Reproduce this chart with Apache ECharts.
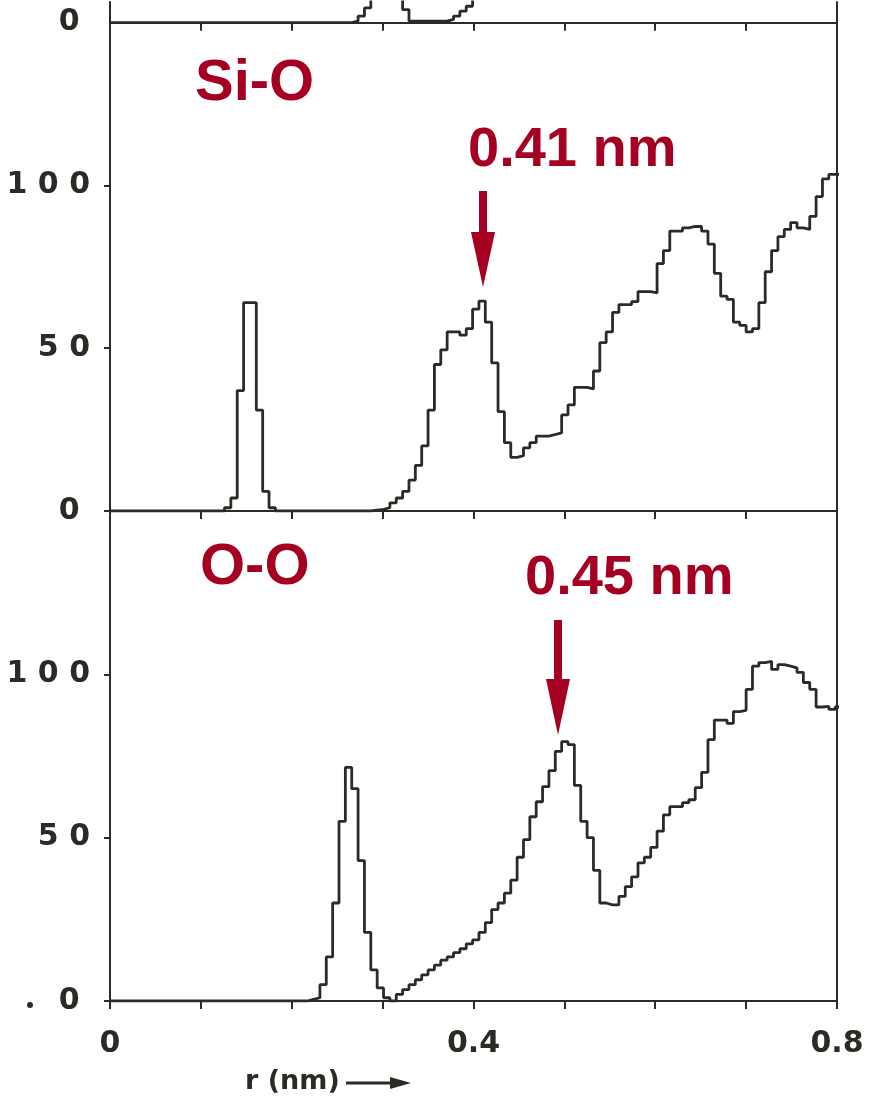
<!DOCTYPE html>
<html><head><meta charset="utf-8">
<script src="https://cdn.jsdelivr.net/npm/echarts@6/dist/echarts.min.js"></script>
<style>html,body{margin:0;padding:0;background:#fff}#c{width:869px;height:1096px}</style>
</head><body><div id="c"></div>
<script>
// histogram bin width along r (nm)
const binWidth = 0.007;
// Si-O pair distribution (counts per bin, starting at r = 0)
const siO = [0,0,0,0,0,0,0,0,0,0,0,0,0,0,0,0,0,0,
 1,4,37,64,64,31,6,1,
 0,0,0,0,0,0,0,0,0,0,0,0,0,0,0,
 0.3,0.5,1,2.5,4,6,9.5,14,20,31,
 45,49.5,55,55,54,56,62,64.5,58,45.5,
 30.5,21,16.5,17,19.4,21,23,23,23.5,24,
 29.5,32.6,38,38,37.5,43,51.7,55,61,63.4,
 63.4,64.3,67.4,67.4,67,76,80,86,86,87,
 87.4,87.4,86,82,73,66,65,58,57,55,
 56,64,73.5,80,84.3,86.5,88.6,87,86.5,90.5,
 96.6,102,103.4,103.4];
// O-O pair distribution
const oO = [0,0,0,0,0,0,0,0,0,0,0,0,0,0,0,0,0,0,0,0,0,0,0,0,0,0,0,0,0,0,0,
 0.5,1,5,13.5,30,55,71.5,65,43,21,
 9.5,4,1,0,2,3.5,5,6.5,8,9.5,
 11,12.5,13.5,14.8,16,17.5,18.7,21,24,28,
 30,33,37,44,49.4,56.4,61,65.6,70.5,76.4,
 79.4,78.5,66,55,50,40,30,29.4,29.4,32,
 35,38,42.3,44,47,52,57,59.5,59.5,60.7,
 61.6,65.3,70,80,86,86,85,88.6,89,95.4,
 102.5,103.6,104,101.5,103,102.5,102,100.6,97.5,95.4,
 90,90.2,89.3,90];
// bottom part of the panel above (cut off in the figure)
const siSiTop = [0,0,0,0,0,0,0,0,0,0,0,0,0,0,0,0,0,0,0,0,0,0,0,0,0,0,0,0,0,0,0,0,0,0,0,0,0,0,
 0.5,2,4.5,20,30,30,25,20,4,0.5,0.5,0.5,0.5,0.5,0.5,1,2,3.5,5,20];
const xLabelValues = [0, 0.4, 0.8];
const xLabelText = ['0', '0.4', '0.8'];
const yLabelValues = [0, 50, 100];
const yLabelText = ['0 ', '5 0', '1 0 0'];

function steps(vals) {
  const d = vals.map((v, i) => [i * binWidth, v]);
  d.push([vals.length * binWidth, vals[vals.length - 1]]);
  return d;
}
const INK = '#2b2b26';
const RED = '#A50021';
const LBL = {color: INK, fontSize: 30, fontWeight: 'bold', fontFamily: '"DejaVu Sans", sans-serif'};

function xAx(gi, labels) {
  return {
    gridIndex: gi, type: 'value', min: 0, max: 0.8, interval: 0.1,
    axisLine: {show: true, onZero: false, lineStyle: {color: INK, width: 2}},
    axisTick: {show: true, inside: false, length: 8, lineStyle: {color: INK, width: 2}},
    splitLine: {show: false},
    axisLabel: labels ? Object.assign({show: true, margin: 28, showMinLabel: true, showMaxLabel: true, hideOverlap: false,
      formatter: v => { for (let k = 0; k < xLabelValues.length; k++) if (Math.abs(v - xLabelValues[k]) < 1e-6) return xLabelText[k]; return ''; }}, LBL)
      : {show: false}
  };
}
function yLab(v) {
  const k = yLabelValues.indexOf(v);
  return k >= 0 ? yLabelText[k] : '';
}
function yAxLeft(gi, max, labelFn) {
  return {
    gridIndex: gi, type: 'value', min: 0, max: max, interval: 50, position: 'left',
    axisLine: {show: true, lineStyle: {color: INK, width: 2}},
    axisTick: {show: true, inside: false, length: 6, lineStyle: {color: INK, width: 2}},
    splitLine: {show: false},
    axisLabel: Object.assign({show: true, margin: 20, showMaxLabel: false, showMinLabel: true, hideOverlap: false, formatter: labelFn}, LBL)
  };
}
function yAxRight(gi, max) {
  return {
    gridIndex: gi, type: 'value', min: 0, max: max, position: 'right',
    axisLine: {show: true, lineStyle: {color: INK, width: 2}},
    axisTick: {show: false}, axisLabel: {show: false}, splitLine: {show: false}
  };
}
const stripMax = 6.3;
const option = {
  animation: false,
  backgroundColor: '#fff',
  grid: [
    {left: 110, width: 727, top: 2, height: 20.7, containLabel: false, outerBoundsMode: 'none'},
    {left: 110, width: 727, top: 22.7, height: 488.3, containLabel: false, outerBoundsMode: 'none'},
    {left: 110, width: 727, top: 511, height: 490, containLabel: false, outerBoundsMode: 'none'}
  ],
  xAxis: [xAx(0, false), xAx(1, false), xAx(2, true)],
  yAxis: [
    Object.assign(yAxLeft(0, stripMax, v => v === 0 ? '0 ' : ''), {interval: stripMax, axisTick: {show: false}}),
    yAxRight(0, stripMax),
    yAxLeft(1, 150, yLab),
    yAxRight(1, 150),
    yAxLeft(2, 150, yLab),
    yAxRight(2, 150)
  ],
  series: [
    {type: 'line', xAxisIndex: 0, yAxisIndex: 0, data: steps(siSiTop), step: 'end', symbol: 'none', clip: true,
      lineStyle: {color: INK, width: 2.8}},
    {type: 'line', xAxisIndex: 1, yAxisIndex: 2, data: steps(siO), step: 'end', symbol: 'none', clip: true,
      lineStyle: {color: INK, width: 2.8}},
    {type: 'line', xAxisIndex: 2, yAxisIndex: 4, data: steps(oO), step: 'end', symbol: 'none', clip: true,
      lineStyle: {color: INK, width: 2.8}}
  ],
  graphic: [
    {type: 'text', x: 195, y: 84, style: {text: 'Si-O', fill: RED, font: 'bold 58px "Liberation Sans", Arial, sans-serif', verticalAlign: 'middle', align: 'left'}},
    {type: 'text', x: 468, y: 151, style: {text: '0.41 nm', fill: RED, font: 'bold 56px "Liberation Sans", Arial, sans-serif', verticalAlign: 'middle', align: 'left'}},
    {type: 'rect', shape: {x: 479, y: 191, width: 8, height: 44}, style: {fill: RED}},
    {type: 'polygon', shape: {points: [[471, 232], [495, 232], [483, 287]]}, style: {fill: RED}},
    {type: 'text', x: 200, y: 568, style: {text: 'O-O', fill: RED, font: 'bold 58px "Liberation Sans", Arial, sans-serif', verticalAlign: 'middle', align: 'left'}},
    {type: 'text', x: 525, y: 579, style: {text: '0.45 nm', fill: RED, font: 'bold 56px "Liberation Sans", Arial, sans-serif', verticalAlign: 'middle', align: 'left'}},
    {type: 'rect', shape: {x: 554, y: 620, width: 8, height: 62}, style: {fill: RED}},
    {type: 'polygon', shape: {points: [[546, 679], [570, 679], [558, 735]]}, style: {fill: RED}},
    {type: 'text', x: 245, y: 1082, style: {text: 'r (nm)', fill: INK, font: 'bold 27px "DejaVu Sans", sans-serif', verticalAlign: 'middle', align: 'left'}},
    {type: 'line', shape: {x1: 346, y1: 1083, x2: 398, y2: 1083}, style: {stroke: INK, lineWidth: 3}},
    {type: 'polygon', shape: {points: [[390, 1077], [411, 1083], [390, 1089]]}, style: {fill: INK}},
    {type: 'circle', shape: {cx: 30, cy: 1005, r: 3}, style: {fill: INK}}
  ]
};
const chart = echarts.init(document.getElementById('c'), null, {renderer: 'canvas'});
chart.setOption(option);
</script>
</body></html>
